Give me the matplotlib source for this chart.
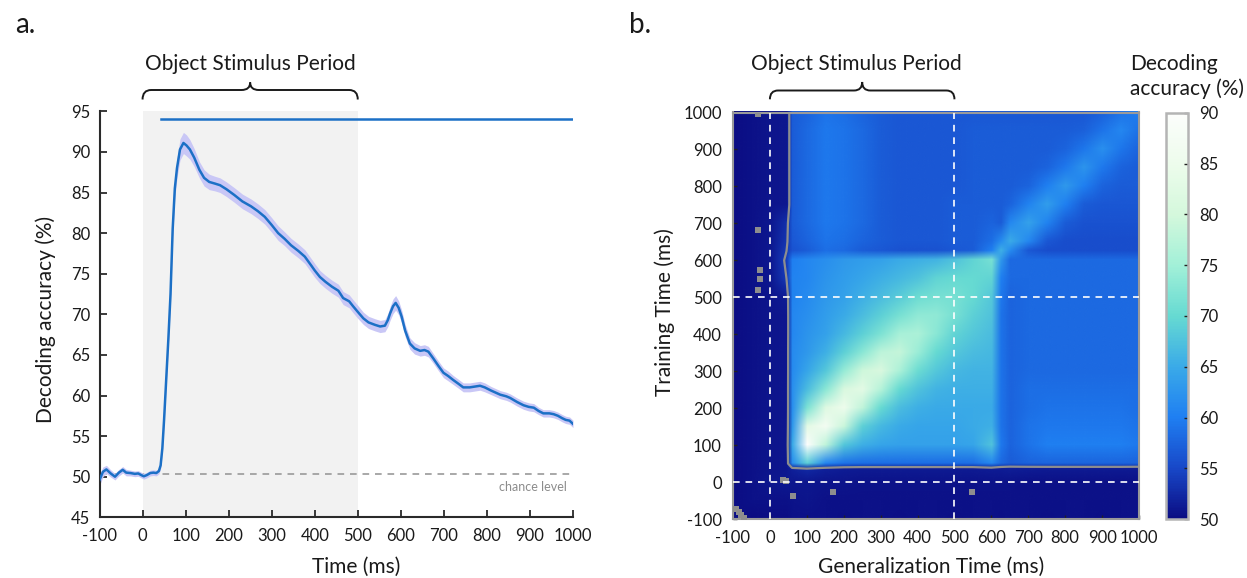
import numpy as np
import matplotlib
matplotlib.use('Agg')
import matplotlib.pyplot as plt
from matplotlib.colors import LinearSegmentedColormap, Normalize
from matplotlib.image import NonUniformImage
from matplotlib.path import Path
from matplotlib.patches import PathPatch
from matplotlib.cm import ScalarMappable
import matplotlib.transforms as mtransforms

plt.rcParams['font.family'] = ['Lato', 'DejaVu Sans']
plt.rcParams['axes.unicode_minus'] = False

# ---------------- Panel a data ----------------
time_ms = [-100, -92, -84, -74, -64, -55, -46, -38, -28, -18, -10, -3, 3, 10, 18, 25, 32, 38,
           42, 46, 50, 55, 60, 65, 70, 75, 80, 87, 95, 102, 110, 120, 132, 143, 155, 168, 180,
           195, 213, 232, 252, 268, 284, 300, 315, 330, 345, 362, 377, 392, 400, 412, 425, 440,
           455, 466, 480, 489, 500, 513, 525, 540, 552, 563, 570, 575, 582, 588, 595, 602, 610,
           621, 632, 645, 655, 664, 675, 688, 699, 710, 722, 735, 745, 760, 772, 784, 795, 810,
           831, 845, 854, 870, 885, 897, 909, 920, 931, 945, 955, 965, 975, 983, 992, 998, 1000]
accuracy = [49.6, 50.6, 50.9, 50.4, 50.0, 50.5, 50.85, 50.5, 50.45, 50.35, 50.4, 50.2, 50.05,
            50.2, 50.45, 50.5, 50.45, 50.7, 51.4, 53.5, 57.0, 62.0, 67.0, 72.5, 80.5, 85.5, 88.0,
            90.3, 91.1, 90.8, 90.3, 89.3, 87.8, 86.8, 86.3, 86.1, 85.9, 85.4, 84.7, 83.9, 83.3,
            82.7, 82.0, 81.0, 80.0, 79.3, 78.5, 77.8, 77.1, 76.0, 75.4, 74.6, 74.0, 73.4, 72.9,
            72.0, 71.6, 71.0, 70.3, 69.5, 69.0, 68.7, 68.5, 68.6, 69.3, 70.1, 71.0, 71.4, 70.8,
            69.7, 68.0, 66.4, 65.8, 65.5, 65.6, 65.4, 64.6, 63.6, 62.8, 62.4, 61.9, 61.4, 61.0,
            61.0, 61.1, 61.2, 61.0, 60.6, 60.1, 59.9, 59.7, 59.2, 58.8, 58.6, 58.5, 58.1, 57.8,
            57.8, 57.7, 57.5, 57.2, 57.0, 56.9, 56.6, 56.5]
sem = [0.7, 0.6, 0.5, 0.45, 0.4, 0.4, 0.4, 0.4, 0.35, 0.35, 0.35, 0.35, 0.35, 0.35, 0.35, 0.35,
       0.35, 0.35, 0.4, 0.5, 0.6, 0.7, 0.8, 0.9, 1.0, 1.1, 1.2, 1.3, 1.3, 1.3, 1.2, 1.1, 1.0,
       1.0, 0.95, 0.9, 0.9, 0.9, 0.9, 0.9, 0.9, 0.9, 0.9, 0.9, 0.9, 0.85, 0.85, 0.85, 0.85,
       0.85, 0.85, 0.8, 0.8, 0.8, 0.8, 0.8, 0.8, 0.8, 0.8, 0.75, 0.75, 0.75, 0.75, 0.75, 0.8,
       0.85, 0.9, 0.9, 0.85, 0.8, 0.75, 0.7, 0.7, 0.65, 0.65, 0.65, 0.6, 0.6, 0.6, 0.6, 0.55,
       0.55, 0.55, 0.55, 0.55, 0.55, 0.55, 0.5, 0.5, 0.5, 0.5, 0.5, 0.5, 0.5, 0.5, 0.45, 0.45,
       0.45, 0.45, 0.45, 0.45, 0.45, 0.45, 0.45, 0.45]
chance_level = 50.3
sig_line_start, sig_line_end, sig_line_y = 43, 1000, 94.0
stim_start, stim_end = 0, 500

# ---------------- Panel b data ----------------
gen_times = [-100, -50, 0, 45, 60, 100, 150, 200, 250, 300, 350, 400, 450, 500, 550, 600, 625,
             650, 700, 750, 800, 850, 900, 950, 1000]
train_times = [-100, -50, 0, 35, 50, 100, 150, 200, 250, 300, 350, 400, 450, 500, 550, 600, 625,
               650, 700, 750, 800, 850, 900, 950, 1000]
tg_acc = [
    [50.5, 50.0, 50.3, 50.3, 50.5, 50.6, 50.5, 50.4, 50.5, 50.5, 50.4, 50.5, 50.5, 50.4, 50.5, 50.5, 50.4, 50.5, 50.5, 50.4, 50.5, 50.5, 50.4, 50.5, 50.5],
    [50.3, 50.5, 50.6, 50.5, 50.7, 50.8, 50.6, 50.6, 50.5, 50.5, 50.5, 50.5, 50.6, 50.6, 50.6, 50.5, 50.5, 50.6, 50.5, 50.5, 50.5, 50.6, 50.5, 50.5, 50.5],
    [50.3, 50.6, 51.0, 51.2, 51.0, 51.0, 50.8, 50.8, 50.7, 50.7, 50.7, 50.7, 50.7, 50.7, 50.7, 50.7, 50.7, 50.7, 50.6, 50.6, 50.6, 50.6, 50.6, 50.6, 50.6],
    [50.3, 50.5, 50.8, 51.0, 51.8, 52.5, 51.8, 51.5, 51.4, 51.4, 51.4, 51.4, 51.4, 51.4, 51.4, 51.5, 51.5, 51.6, 51.5, 51.4, 51.4, 51.4, 51.4, 51.4, 51.4],
    [50.3, 50.5, 50.8, 51.0, 62.0, 69.0, 61.0, 59.0, 58.5, 58.5, 58.5, 58.5, 58.5, 58.5, 58.6, 61.0, 58.0, 57.0, 57.5, 57.8, 57.8, 57.8, 57.8, 57.8, 57.5],
    [50.3, 50.5, 50.8, 51.0, 65.0, 90.0, 78.0, 68.0, 65.5, 64.5, 64.0, 64.0, 64.0, 64.0, 64.5, 67.5, 59.5, 57.5, 59.0, 60.0, 60.0, 60.0, 60.0, 60.0, 59.5],
    [50.3, 50.5, 50.8, 51.0, 63.0, 83.0, 87.0, 79.0, 69.0, 66.5, 65.0, 64.5, 64.5, 64.5, 65.0, 65.5, 59.0, 57.5, 59.0, 59.5, 59.5, 59.5, 59.5, 59.5, 59.0],
    [50.3, 50.5, 50.8, 51.0, 62.0, 72.0, 82.0, 85.0, 78.0, 70.0, 67.0, 65.5, 65.0, 65.0, 65.0, 65.0, 59.0, 57.5, 58.5, 59.0, 59.0, 59.0, 59.0, 59.0, 58.5],
    [50.3, 50.5, 50.8, 51.0, 62.0, 67.0, 73.0, 81.0, 83.0, 77.0, 70.0, 67.5, 66.0, 65.5, 65.5, 65.5, 59.0, 57.5, 58.5, 58.5, 58.5, 58.5, 58.5, 58.5, 58.5],
    [50.3, 50.5, 50.8, 51.0, 61.5, 64.5, 68.0, 74.0, 79.5, 81.0, 76.0, 70.5, 68.0, 66.5, 66.0, 66.0, 59.0, 57.5, 58.0, 58.0, 58.0, 58.0, 58.0, 58.0, 58.0],
    [50.3, 50.5, 50.8, 51.0, 61.5, 63.0, 65.5, 69.0, 73.0, 77.5, 78.5, 74.5, 70.0, 68.0, 67.0, 66.5, 59.0, 57.5, 58.0, 58.0, 58.0, 58.0, 58.0, 58.0, 58.0],
    [50.3, 50.5, 50.8, 51.0, 61.0, 62.5, 64.0, 66.5, 69.0, 72.0, 75.5, 76.0, 73.0, 69.5, 68.0, 67.0, 59.0, 57.5, 58.0, 58.0, 58.0, 58.0, 58.0, 58.0, 58.0],
    [50.3, 50.5, 50.8, 51.0, 61.0, 62.0, 63.5, 65.0, 67.0, 69.0, 71.5, 73.5, 73.5, 71.5, 69.0, 67.5, 59.0, 57.5, 58.0, 58.0, 58.0, 58.0, 58.0, 58.0, 58.0],
    [50.3, 50.5, 50.8, 51.5, 60.5, 61.5, 63.0, 64.0, 65.5, 67.0, 68.5, 70.5, 71.5, 71.5, 70.0, 68.0, 59.5, 57.5, 58.0, 58.0, 58.0, 58.0, 58.0, 58.0, 58.0],
    [50.3, 50.5, 51.0, 54.0, 60.5, 61.0, 62.5, 63.5, 64.5, 65.5, 66.5, 67.5, 69.5, 70.0, 70.0, 69.5, 60.0, 58.0, 58.0, 58.0, 58.0, 58.0, 58.0, 58.0, 58.0],
    [50.3, 50.5, 51.0, 54.5, 60.0, 61.0, 62.0, 63.0, 63.5, 64.0, 65.0, 65.5, 66.0, 67.5, 69.5, 71.5, 63.0, 58.0, 58.0, 58.0, 58.0, 58.0, 58.0, 58.0, 58.0],
    [50.3, 50.5, 51.0, 54.0, 56.0, 57.0, 58.5, 58.0, 57.0, 56.5, 56.0, 56.0, 56.0, 56.5, 57.0, 60.0, 65.5, 61.5, 56.5, 55.5, 55.5, 55.5, 55.5, 55.5, 55.5],
    [50.3, 50.5, 51.0, 53.5, 56.5, 57.5, 59.0, 58.5, 57.5, 57.0, 56.5, 56.5, 56.5, 57.0, 57.0, 58.5, 61.5, 65.0, 61.0, 56.5, 55.5, 55.5, 55.5, 55.5, 55.5],
    [50.3, 50.5, 51.0, 53.0, 57.0, 58.0, 59.5, 59.0, 58.0, 57.0, 56.5, 56.5, 56.5, 57.0, 57.0, 57.5, 57.0, 61.0, 64.0, 60.5, 57.0, 56.0, 56.0, 56.0, 56.0],
    [50.3, 50.5, 50.8, 51.0, 57.0, 58.0, 59.5, 59.0, 58.0, 57.0, 56.5, 56.5, 56.5, 57.0, 57.0, 57.0, 57.0, 57.5, 60.5, 63.5, 60.0, 57.0, 56.5, 56.5, 56.5],
    [50.3, 50.5, 50.8, 51.0, 57.0, 58.0, 59.5, 59.0, 58.0, 57.0, 56.5, 56.5, 56.5, 56.5, 57.0, 57.0, 57.0, 57.0, 57.5, 60.0, 63.0, 60.0, 57.5, 57.0, 57.0],
    [50.3, 50.5, 50.8, 51.0, 57.0, 58.0, 59.5, 59.0, 58.0, 57.0, 56.5, 56.5, 56.5, 56.5, 57.0, 57.0, 57.0, 57.0, 57.0, 57.5, 59.5, 62.5, 59.5, 57.5, 57.0],
    [50.3, 50.5, 50.8, 51.0, 57.0, 58.0, 59.5, 59.0, 58.0, 57.0, 56.5, 56.5, 56.5, 56.5, 57.0, 57.0, 57.0, 57.0, 57.0, 57.0, 57.5, 59.3, 62.0, 59.3, 57.5],
    [50.3, 50.5, 50.8, 51.0, 57.0, 58.0, 59.5, 59.0, 58.0, 57.0, 56.5, 56.5, 56.5, 56.5, 57.0, 57.0, 57.0, 57.0, 57.0, 57.0, 57.0, 57.3, 59.0, 61.0, 58.8],
    [50.3, 50.5, 50.8, 51.0, 57.0, 57.5, 59.0, 58.5, 57.5, 57.0, 56.5, 56.5, 56.5, 56.5, 56.5, 56.5, 56.5, 56.5, 56.5, 56.5, 56.5, 56.5, 57.2, 58.8, 60.0],
]
sig_level = 54
# isolated significant clusters (gen, train)
iso_gen = [-31, -31, -31, -28, -28, 36, 44, 63, 172, 547, -92, -85, -78, -71]
iso_train = [997, 683, 520, 550, 575, 6, 4, -38, -26, -26, -72, -80, -88, -96]
stim_marks = [0, 500]

cbar_ticks = [50, 55, 60, 65, 70, 75, 80, 85, 90]
cmap_colors = ['#0b0c82', '#1848c8', '#1f7ff2', '#3aaae8', '#66dad2', '#a2f0d8',
               '#d4f8dc', '#edfcec', '#fcfdfc']

TXT = '#1a1a1a'
W, H = 1247, 578
fig = plt.figure(figsize=(W / 100, H / 100), dpi=100)


def fx(px):
    return px / W


def fy(py):
    return 1 - py / H


# ---------------- Panel a ----------------
ax1 = fig.add_axes([fx(99.5), fy(517.3), fx(573) - fx(99.5), fy(111.3) - fy(517.3)])
ax1.axvspan(stim_start, stim_end, color='#f2f2f2', lw=0, zorder=0)
ln, = ax1.plot([-100, 1000], [chance_level, chance_level], color='#9a9a9a', lw=1.2, zorder=1)
ln.set_dashes((4, 3.5))
t = np.array(time_ms)
a = np.array(accuracy)
e = np.array(sem)
ax1.fill_between(t, a - e, a + e, color='#c9c7f6', lw=0, zorder=2)
ax1.plot(t, a, color='#1c70c6', lw=1.8, zorder=3)
ax1.plot([sig_line_start, sig_line_end], [sig_line_y, sig_line_y], color='#1c70c6', lw=1.8, zorder=3)
ax1.text(985, 48.7, 'chance level', color='#8c8c8c', fontsize=9, ha='right', va='center')
ax1.set_xlim(-100, 1000)
ax1.set_ylim(45, 95)
ax1.set_xticks(list(range(-100, 1001, 100)))
ax1.set_yticks(list(range(45, 96, 5)))
for s in ['top', 'right']:
    ax1.spines[s].set_visible(False)
for s in ['left', 'bottom']:
    ax1.spines[s].set_linewidth(1.5)
    ax1.spines[s].set_color('#2a2a2a')
ax1.tick_params(axis='both', direction='in', length=5, width=1.3, color='#2a2a2a',
                labelsize=12, labelcolor=TXT)
ax1.tick_params(axis='x', pad=8)
ax1.tick_params(axis='y', pad=6.5)

# ---------------- Panel b ----------------
cmap = LinearSegmentedColormap.from_list('tg', cmap_colors)
norm = Normalize(vmin=50, vmax=90)
ax2 = fig.add_axes([fx(733), fy(519), fx(1139) - fx(733), fy(112.5) - fy(519)])
M = np.array(tg_acc)
im = NonUniformImage(ax2, interpolation='bilinear', cmap=cmap, norm=norm,
                     extent=(-100, 1000, -100, 1000))
im.set_data(np.array(gen_times, float), np.array(train_times, float), M)
ax2.add_image(im)
ax2.contour(gen_times, train_times, M, levels=[sig_level], colors='#8e8e8e', linewidths=1.6)
ax2.scatter(iso_gen, iso_train, marker='s', s=14, color='#8e8e8e', lw=0, zorder=4)
for v in stim_marks:
    l1 = ax2.axvline(v, color='white', lw=1.2, zorder=5)
    l1.set_dashes((4, 3.5))
    l2 = ax2.axhline(v, color='white', lw=1.2, zorder=5)
    l2.set_dashes((4, 3.5))
ax2.set_xlim(-100, 1000)
ax2.set_ylim(-100, 1000)
ax2.set_xticks(list(range(-100, 1001, 100)))
ax2.set_yticks(list(range(-100, 1001, 100)))
for s in ax2.spines.values():
    s.set_color('#9a9a9a')
    s.set_linewidth(1.5)
ax2.tick_params(axis='both', direction='in', length=3, width=1, color='#222222',
                labelsize=12, labelcolor=TXT)
ax2.tick_params(axis='x', pad=8)
ax2.tick_params(axis='y', pad=8)

cax = fig.add_axes([fx(1166), fy(519.3), fx(1188) - fx(1166), fy(112.7) - fy(519.3)])
cb = fig.colorbar(ScalarMappable(norm=norm, cmap=cmap), cax=cax)
cb.set_ticks(cbar_ticks)
cb.outline.set_edgecolor('#b4b4b4')
cb.outline.set_linewidth(1.8)
cax.tick_params(direction='in', length=3, width=1, color='#222222', labelsize=12,
                labelcolor=TXT, pad=8)

# ---------------- Texts ----------------
fig.text(fx(15), fy(33), 'a.', fontsize=20, color=TXT, ha='left', va='baseline')
fig.text(fx(629), fy(33), 'b.', fontsize=20, color=TXT, ha='left', va='baseline')
fig.text(fx(250.5), fy(70), 'Object Stimulus Period', fontsize=15, color=TXT, ha='center', va='baseline')
fig.text(fx(856), fy(70), 'Object Stimulus Period', fontsize=15, color=TXT, ha='center', va='baseline')
fig.text(fx(1130), fy(70), 'Decoding', fontsize=15, color=TXT, ha='left', va='baseline')
fig.text(fx(1130), fy(95), 'accuracy (%)', fontsize=15, color=TXT, ha='left', va='baseline')
fig.text(fx(45.5), fy(319), 'Decoding accuracy (%)', fontsize=15, color=TXT, ha='center', va='center', rotation=90)
fig.text(fx(356), fy(573), 'Time (ms)', fontsize=15, color=TXT, ha='center', va='baseline')
fig.text(fx(931.5), fy(573), 'Generalization Time (ms)', fontsize=15, color=TXT, ha='center', va='baseline')
fig.text(fx(665), fy(312), 'Training Time (ms)', fontsize=15, color=TXT, ha='center', va='center', rotation=90)


def brace(ax, x0, x1, y_end, y_mid, y_tip, dx):
    tr = mtransforms.blended_transform_factory(ax.transData, fig.transFigure)
    xc = (x0 + x1) / 2
    verts = [(x0, y_end), (x0, y_mid), (x0 + dx, y_mid),
             (xc - dx, y_mid), (xc, y_mid), (xc, y_tip),
             (xc, y_mid), (xc + dx, y_mid),
             (x1 - dx, y_mid), (x1, y_mid), (x1, y_end)]
    codes = [Path.MOVETO, Path.CURVE3, Path.CURVE3, Path.LINETO, Path.CURVE3, Path.CURVE3,
             Path.CURVE3, Path.CURVE3, Path.LINETO, Path.CURVE3, Path.CURVE3]
    p = PathPatch(Path(verts, codes), transform=tr, fill=False, lw=1.4, edgecolor=TXT,
                  clip_on=False)
    fig.add_artist(p)


brace(ax1, stim_start, stim_end, fy(99.5), fy(90), fy(82.5), 20)
brace(ax2, stim_start, stim_end, fy(99.3), fy(90.5), fy(82), 22)

fig.savefig('out.png', dpi=100)
